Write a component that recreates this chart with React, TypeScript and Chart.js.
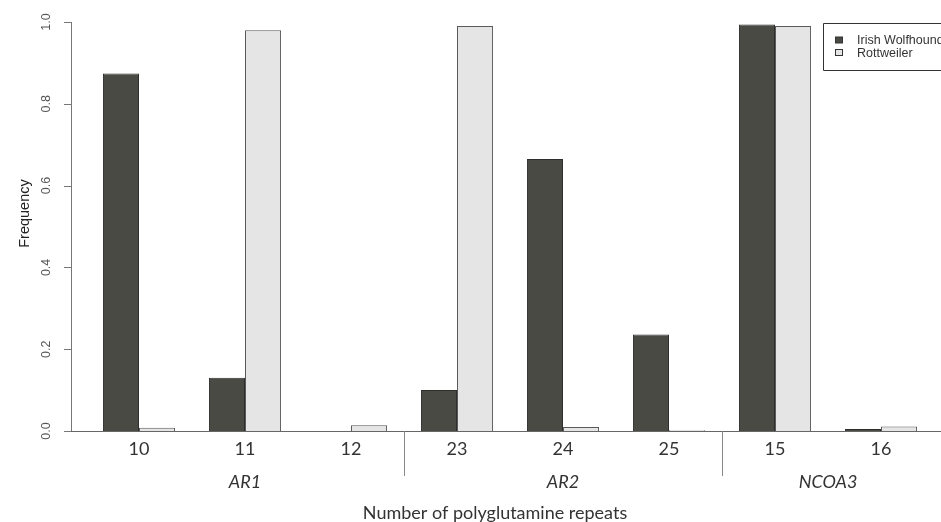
import React, { useEffect, useRef } from "react";
import { Chart, registerables } from "chart.js";

Chart.register(...registerables);

const categories = ["10", "11", "12", "23", "24", "25", "15", "16"];
const irishWolfhound = [0.874, 0.13, 0, 0.1, 0.665, 0.236, 0.994, 0.005];
const rottweiler = [0.008, 0.98, 0.014, 0.99, 0.01, 0.002, 0.99, 0.011];
const groupNames = ["AR1", "AR2", "NCOA3"];
const groupSizes = [3, 3, 2];
const yTicks = [0, 0.2, 0.4, 0.6, 0.8, 1.0];
const seriesNames = ["Irish Wolfhound", "Rottweiler"];

const DARK = "#4a4a45";
const LIGHT = "#e5e5e5";

const rAxesPlugin = {
  id: "rAxes",
  afterDraw(chart: any) {
    const ctx = chart.ctx;
    const x = chart.scales.x;
    const y = chart.scales.y;
    const area = chart.chartArea;
    const axisX = area.left - 15;
    const base = y.getPixelForValue(0);
    ctx.save();

    // y axis line + ticks
    ctx.strokeStyle = "#777";
    ctx.lineWidth = 1;
    ctx.beginPath();
    ctx.moveTo(axisX + 0.5, y.getPixelForValue(yTicks[0]));
    ctx.lineTo(axisX + 0.5, y.getPixelForValue(yTicks[yTicks.length - 1]));
    yTicks.forEach((t) => {
      const py = Math.round(y.getPixelForValue(t)) + 0.5;
      ctx.moveTo(axisX - 7, py);
      ctx.lineTo(axisX + 0.5, py);
    });
    ctx.stroke();

    // y tick labels rotated
    ctx.fillStyle = "#555";
    ctx.font = "12.5px 'Liberation Sans', Arial, sans-serif";
    ctx.textAlign = "center";
    ctx.textBaseline = "middle";
    yTicks.forEach((t) => {
      const py = y.getPixelForValue(t);
      ctx.save();
      ctx.translate(axisX - 24, py);
      ctx.rotate(-Math.PI / 2);
      ctx.fillText(t.toFixed(1), 0, 0);
      ctx.restore();
    });

    // y title
    ctx.save();
    ctx.fillStyle = "#222";
    ctx.font = "14.5px 'Liberation Sans', Arial, sans-serif";
    ctx.translate(25, (area.top + area.bottom) / 2 - 13);
    ctx.rotate(-Math.PI / 2);
    ctx.fillText("Frequency", 0, 0);
    ctx.restore();

    // baseline
    ctx.strokeStyle = "#666";
    ctx.beginPath();
    ctx.moveTo(axisX, Math.round(base) + 0.5);
    ctx.lineTo(chart.width, Math.round(base) + 0.5);
    ctx.stroke();

    // x tick labels
    ctx.fillStyle = "#333";
    ctx.font = "18px Lato, 'Open Sans', sans-serif";
    categories.forEach((c, i) => {
      ctx.fillText(c, x.getPixelForValue(i), base + 18);
    });

    // group separators and labels
    let start = 0;
    ctx.font = "italic 18px Lato, 'Open Sans', sans-serif";
    groupNames.forEach((g, gi) => {
      const end = start + groupSizes[gi] - 1;
      const cx = (x.getPixelForValue(start) + x.getPixelForValue(end)) / 2;
      ctx.fillText(g, cx, base + 51);
      if (gi < groupNames.length - 1) {
        const sx = Math.round((x.getPixelForValue(end) + x.getPixelForValue(end + 1)) / 2) + 0.5;
        ctx.strokeStyle = "#888";
        ctx.beginPath();
        ctx.moveTo(sx, base);
        ctx.lineTo(sx, base + 45);
        ctx.stroke();
      }
      start = end + 1;
    });

    // x title
    ctx.font = "18px Lato, 'Open Sans', sans-serif";
    ctx.fillText("Number of polyglutamine repeats", (area.left + area.right) / 2 - 15, base + 82);

    // legend
    const lx = 823.5;
    const ly = 23.5;
    ctx.strokeStyle = "#333";
    ctx.fillStyle = "#fff";
    ctx.beginPath();
    ctx.rect(lx, ly, 140, 47);
    ctx.fill();
    ctx.stroke();
    const fills = [DARK, LIGHT];
    ctx.font = "12.5px 'Liberation Sans', Arial, sans-serif";
    ctx.textAlign = "left";
    seriesNames.forEach((n, i) => {
      const cy = 40 + i * 12.5;
      ctx.fillStyle = fills[i];
      ctx.strokeStyle = "#333";
      ctx.fillRect(835.5, cy - 3, 7, 6);
      ctx.strokeRect(835.5, cy - 3, 7, 6);
      ctx.fillStyle = "#333";
      ctx.fillText(n, 857, cy + 1);
    });

    ctx.restore();
  },
};

export default function App() {
  const ref = useRef<HTMLCanvasElement>(null);
  useEffect(() => {
    document.body.style.margin = "0";
    const chart = new Chart(ref.current!, {
      type: "bar",
      data: {
        labels: categories,
        datasets: [
          {
            label: seriesNames[0],
            data: irishWolfhound,
            backgroundColor: DARK,
            borderColor: "#2e2e2e",
            borderWidth: 1,
          },
          {
            label: seriesNames[1],
            data: rottweiler,
            backgroundColor: LIGHT,
            borderColor: "#5a5a5a",
            borderWidth: 1,
          },
        ],
      },
      options: {
        responsive: false,
        animation: false,
        layout: { padding: { left: 86, right: 7, top: 22, bottom: 91 } },
        datasets: { bar: { categoryPercentage: 0.68, barPercentage: 1.0 } },
        scales: {
          x: { type: "category", display: false, offset: true },
          y: { display: false, min: 0, max: 1 },
        },
        plugins: {
          legend: { display: false },
          tooltip: { enabled: false },
        },
      },
      plugins: [rAxesPlugin],
    });
    return () => chart.destroy();
  }, []);
  return (
    <div style={{ position: "fixed", left: 0, top: 0, width: 941, height: 522, background: "#fff" }}>
      <canvas ref={ref} width={941} height={522} />
    </div>
  );
}
